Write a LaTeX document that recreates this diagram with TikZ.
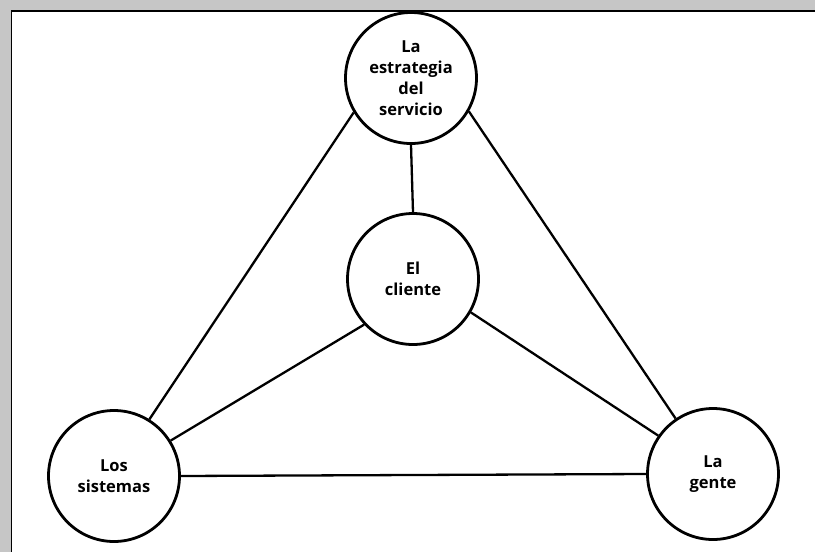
\documentclass[tikz,border=0pt]{standalone}
\usepackage{fontspec}
\setmainfont{Open Sans}
\begin{document}
\begin{tikzpicture}[x=1pt,y=-1pt,
  circ/.style={circle,draw=black,line width=2.8pt,minimum size=131pt,inner sep=0pt,
    align=center,font=\bfseries\fontsize{16.5}{21}\selectfont},
  conn/.style={line width=2.3pt,black}]
\useasboundingbox (0,0) rectangle (815,552);
\fill[white] (0,0) rectangle (815,552);
\fill[gray!45] (0,0) rectangle (815,10);
\fill[gray!45] (0,0) rectangle (11,552);
\draw[line width=1.6pt] (11.5,552) -- (11.5,10.8) -- (815,10.8);
\node[circ] (top) at (411,78) {La\\estrategia\\del\\servicio};
\node[circ] (cli) at (413,279) {El\\cliente};
\node[circ] (sis) at (114,476) {Los\\sistemas};
\node[circ] (gen) at (713,474) {La\\gente};
\draw[conn] (top.south) -- (cli.north);
\draw[conn] (top.211) -- (sis.58);
\draw[conn] (top.-30) -- (gen.124);
\draw[conn] (cli.223) -- (sis.32);
\draw[conn] (cli.-30) -- (gen.145);
\draw[conn] (sis.0) -- (gen.180);
\end{tikzpicture}
\end{document}
